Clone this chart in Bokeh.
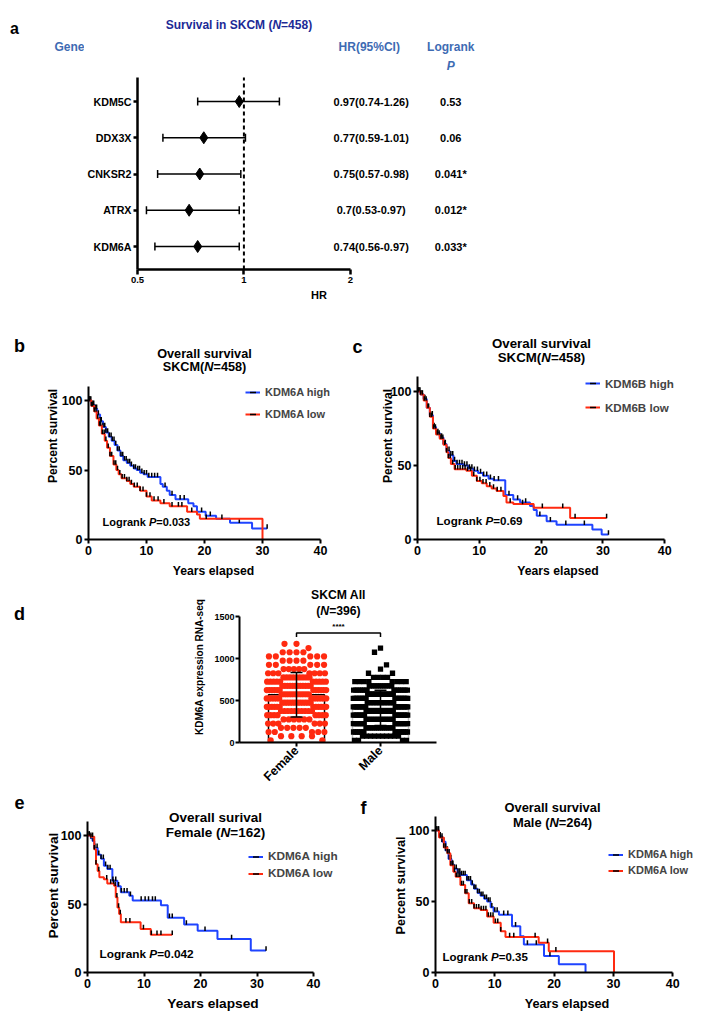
import math
import numpy as np
from bokeh.plotting import figure
from bokeh.layouts import column, row
from bokeh.models import (Range1d, FixedTicker, Whisker, TeeHead,
                          ColumnDataSource, Legend, LegendItem)
from bokeh.core.properties import value
from bokeh.embed import file_html
from bokeh.resources import INLINE

# ------------------------------------------------------------------ data
# panel a : forest plot
genes = ["KDM5C", "DDX3X", "CNKSR2", "ATRX", "KDM6A"]
hr = [0.97, 0.77, 0.75, 0.7, 0.74]
hr_low = [0.74, 0.59, 0.57, 0.53, 0.56]
hr_high = [1.26, 1.01, 0.98, 0.97, 0.97]
logrank_p = [0.53, 0.06, 0.041, 0.012, 0.033]
hr_ticks = [0.5, 1, 2]

# Kaplan-Meier panels (years, percent survival) and censor times
km_xticks = [0, 10, 20, 30, 40]
km_yticks = [0, 50, 100]

b_hi_t = [0, 0.5, 1.0, 1.5, 2.0, 2.5, 3.0, 3.5, 4.0, 4.5, 5.0, 5.5, 6.0, 6.6, 7.2, 7.8, 8.3, 8.9, 9.5, 10.2,
          12.4, 12.8, 13.5, 14.0, 15.0, 17.2, 18.1, 18.7, 20.2, 22.0, 24.4, 28.2, 30.8]
b_hi_s = [100, 97, 94, 90, 85, 81, 77, 74, 71, 68, 64, 60, 57, 55, 53, 51, 50, 48, 47, 45,
          40, 38, 35, 32, 29, 26, 24, 20, 17, 15, 12, 8, 8]
b_hi_c = [0.2, 0.4, 0.7, 0.9, 1.2, 1.4, 1.7, 2.0, 2.2, 2.5, 2.8, 3.0, 3.3, 3.6, 3.9, 4.1, 4.4, 4.7, 5.0,
          5.3, 5.6, 5.9, 6.2, 6.5, 6.8, 7.1, 7.4, 7.8, 8.1, 8.5, 8.8, 9.2, 9.6, 10.0, 10.4, 10.9, 11.4,
          11.9, 13.2, 14.4, 15.8, 16.5, 19.5, 21.0, 26.0, 30.8]
b_lo_t = [0, 0.5, 1.0, 1.4, 1.8, 2.3, 2.8, 3.2, 3.7, 4.3, 4.8, 5.2, 5.7, 6.6, 7.2, 7.8, 8.9, 10.0, 10.9,
          12.4, 14.0, 17.0, 18.7, 19.2, 30.0]
b_lo_s = [100, 96, 92, 87, 82, 76, 71, 66, 60, 54, 50, 47, 44, 42, 40, 38, 35, 31, 28,
          26, 24, 20, 18, 15, 0]
b_lo_c = [0.2, 0.5, 0.7, 1.0, 1.3, 1.6, 1.9, 2.1, 2.4, 2.7, 3.0, 3.4, 3.7, 4.0, 4.4, 4.7, 5.0, 5.4, 5.8,
          6.2, 6.6, 7.0, 7.4, 7.9, 8.4, 8.9, 9.4, 10.0, 10.6, 11.3, 12.0, 13.0, 14.4, 15.5, 16.1, 17.8,
          20.3, 23.0]
b_logrank = "0.033"

c_hi_t = [0, 0.5, 1.0, 1.5, 2.0, 2.5, 3.0, 3.6, 4.2, 4.7, 5.2, 5.8, 6.3, 7.4, 8.2, 9.0, 9.8, 10.6, 11.5,
          12.3, 14.2, 15.5, 16.6, 18.2, 18.8, 19.3, 20.9, 22.5, 28.3, 29.8, 30.9]
c_hi_s = [100, 98, 95, 89, 84, 76, 72, 69, 64.5, 60, 57, 53, 51, 50, 48, 46.5, 45, 43, 41,
          40, 30, 27, 25, 22.6, 20, 16, 12.4, 10, 6.8, 3.4, 3.4]
c_hi_c = [0.2, 0.4, 0.7, 1.0, 1.2, 1.5, 1.8, 2.1, 2.4, 2.7, 3.0, 3.3, 3.6, 3.9, 4.2, 4.5, 4.8, 5.1, 5.4,
          5.7, 6.0, 6.4, 6.8, 7.2, 7.6, 8.0, 8.4, 8.8, 9.2, 9.7, 10.2, 10.7, 11.2, 11.8, 12.4, 13.1,
          14.8, 16.2, 17.5, 19.8, 21.5, 24.0, 27.0, 30.9]
c_lo_t = [0, 0.5, 1.0, 1.5, 2.0, 2.5, 3.0, 3.6, 4.2, 4.7, 5.0, 5.4, 6.0, 7.9, 8.8, 9.6, 10.4, 11.2, 12.0,
          12.8, 13.9, 14.4, 15.5, 18.8, 24.7, 30.6]
c_lo_s = [100, 98, 94, 89, 83, 75, 71, 68, 64, 59, 55, 51, 47.5, 46.4, 43, 39.6, 38, 36, 34.5,
          32.8, 29.4, 25, 24, 21.5, 14.5, 14.5]
c_lo_c = [0.2, 0.5, 0.8, 1.1, 1.4, 1.7, 2.0, 2.3, 2.6, 2.9, 3.2, 3.5, 3.8, 4.1, 4.4, 4.7, 5.0, 5.3, 5.7,
          6.1, 6.5, 6.9, 7.3, 7.7, 8.1, 8.6, 9.1, 9.6, 10.1, 10.6, 11.1, 11.7, 12.3, 12.9, 13.5, 15.0,
          17.0, 20.2, 23.5, 25.5, 30.6]
c_logrank = "0.69"

e_hi_t = [0, 0.6, 0.9, 1.2, 1.8, 2.4, 2.9, 3.5, 4.4, 5.3, 5.9, 7.4, 8.0, 13.0, 14.2, 17.1, 19.5, 23.0,
          28.9, 31.6]
e_hi_s = [100, 98, 96, 91, 86, 83, 78, 75.6, 67, 63, 58.5, 56, 52.5, 49, 40, 35, 30.5, 24.4, 16, 16]
e_hi_c = [0.3, 0.6, 1.0, 1.3, 1.7, 2.0, 2.4, 2.8, 3.2, 3.6, 4.0, 4.5, 5.0, 5.5, 6.0, 6.5, 7.0, 7.6,
          9.5, 10.2, 10.8, 11.5, 12.0, 14.5, 15.0, 17.5, 20.8, 25.5, 31.6]
e_lo_t = [0, 0.6, 1.2, 1.5, 1.8, 2.1, 2.9, 3.5, 4.7, 5.0, 5.3, 5.6, 5.9, 9.4, 11.2, 15.0]
e_lo_s = [100, 99, 90, 79, 74, 69.5, 68, 65, 63.4, 55, 47.5, 42.7, 36.6, 31.7, 27.6, 27.6]
e_lo_c = [0.3, 0.6, 0.9, 1.2, 1.5, 2.0, 3.4, 4.1, 4.6, 4.9, 5.2, 5.5, 5.8, 6.8, 7.5, 9.9, 11.3, 12.3,
          13.0, 15.0]
e_logrank = "0.042"

f_hi_t = [0, 0.6, 1.1, 1.7, 2.2, 2.7, 3.1, 3.7, 4.2, 5.3, 6.0, 6.5, 7.1, 7.6, 8.2, 8.7, 9.3, 9.8, 10.7,
          12.9, 14.3, 14.9, 18.3, 20.8, 25.3]
f_hi_s = [100, 96, 92, 86, 80, 76, 73, 70.5, 68.6, 65, 62, 59, 56, 54, 52, 50, 46, 43, 40.7,
          32.6, 25.6, 19.8, 11.6, 5.8, 0]
f_hi_c = [0.2, 0.5, 0.8, 1.1, 1.4, 1.7, 2.0, 2.3, 2.6, 2.9, 3.2, 3.5, 3.8, 4.1, 4.4, 4.7, 5.0, 5.3, 5.6,
          5.9, 6.2, 6.5, 6.8, 7.1, 7.4, 7.7, 8.0, 8.3, 8.6, 8.9, 9.2, 9.5, 10.0, 10.4, 11.5, 12.2, 13.5,
          15.5, 17.0, 19.3]
f_lo_t = [0, 0.6, 1.4, 2.0, 2.5, 3.0, 3.4, 4.2, 5.0, 5.6, 6.5, 7.6, 8.7, 9.8, 11.0, 11.8, 17.4, 19.1, 30.1]
f_lo_s = [100, 95, 88, 84, 75.6, 71, 67.4, 61.6, 55.8, 48.8, 45.3, 44, 39.5, 35, 29, 25, 21, 15, 0]
f_lo_c = [0.2, 0.5, 0.8, 1.1, 1.4, 1.7, 2.0, 2.3, 2.6, 2.9, 3.2, 3.5, 3.8, 4.1, 4.4, 4.7, 5.0, 5.3, 5.7,
          6.1, 6.5, 6.9, 7.3, 7.7, 8.1, 8.5, 8.9, 9.3, 9.7, 10.1, 10.5, 11.0, 12.5, 13.2, 16.8, 18.9, 20.3]
f_logrank = "0.35"

# panel d : scatter dot plot (value rows and number of dots in each row)
d_groups = ["Female", "Male"]
d_yticks = [0, 500, 1000, 1500]
female_levels = [25, 75, 125, 175, 225, 275, 325, 375, 425, 475, 525, 575, 625, 675, 725, 775, 825,
                 875, 925, 975, 1025, 1075, 1125, 1175]
female_counts = [2, 4, 5, 5, 6, 6, 8, 10, 12, 12, 13, 12, 12, 12, 10, 9, 7, 5, 5, 4, 5, 4, 1, 2]
male_levels = [25, 75, 125, 175, 225, 275, 325, 375, 425, 475, 525, 575, 625, 675, 725, 775, 825,
               875, 925, 1075, 1125]
male_counts = [4, 10, 13, 14, 15, 16, 17, 18, 18, 18, 18, 17, 14, 11, 8, 4, 2, 1, 1, 1, 1]

# ------------------------------------------------------------------ style helpers
FS = "Liberation Sans"
BLUE = "#1f44ff"
RED = "#ff2a10"
NAVY = "#1c2a96"
STEEL = "#3e6bb3"

_W = {' ': 278, '(': 333, ')': 333, '*': 389, '-': 333, '.': 278, '=': 584, '%': 889}
for _c in '0123456789':
    _W[_c] = 556
_W.update(dict(A=722, B=722, C=722, D=722, E=667, F=611, G=778, H=722, I=278, K=722, L=611, M=833,
               N=722, O=778, P=667, R=722, S=667, T=611, X=667, Y=667))
_W.update(dict(a=556, b=611, c=556, d=611, e=556, g=611, h=611, i=278, k=556, l=278, m=889, n=611,
               o=611, p=611, q=611, r=389, s=556, t=333, u=611, v=556, w=778, x=556, y=556))


def tw(s, size):
    return sum(_W.get(ch, 556) for ch in s) / 1000.0 * size


def rich(p, x, y, pieces, size, color="black", align="center"):
    ws = [tw(t, size) for t, _ in pieces]
    off = -sum(ws) / 2 if align == "center" else 0.0
    for (t, st), w in zip(pieces, ws):
        p.text(x=[x], y=[y], text=[t], x_offset=off, text_align="left", text_baseline="middle",
               text_font=value(FS), text_font_size=value(f"{size}px"),
               text_font_style=value(st), text_color=color)
        off += w


def text_fig(X0, W, Y0, H, items):
    """an axis-less strip in page pixel coordinates holding panel letters / headers"""
    p = figure(width=W, height=H, x_range=Range1d(X0, X0 + W), y_range=Range1d(Y0 + H, Y0),
               min_border_left=0, min_border_right=0, min_border_top=0, min_border_bottom=0,
               x_axis_location=None, y_axis_location=None,
               output_backend="svg", toolbar_location=None, title=None)
    p.outline_line_color = None
    p.xgrid.visible = False
    p.ygrid.visible = False
    for x, y, txt, size, align, color in items:
        p.text(x=[x], y=[y], text=[txt], text_align=align, text_baseline="middle",
               text_font=value(FS), text_font_size=value(f"{size}px"),
               text_font_style=value("bold"), text_color=color)
    return column(p)


def style_axes(p, tick_px, lab_px, lw=2):
    for ax in (p.xaxis[0], p.yaxis[0]):
        ax.axis_line_width = lw
        ax.axis_line_color = "black"
        ax.major_tick_line_width = lw
        ax.major_tick_line_color = "black"
        ax.major_tick_out = 4
        ax.major_tick_in = 0
        ax.minor_tick_line_color = None
        ax.major_label_text_font = FS
        ax.major_label_text_font_style = "bold"
        ax.major_label_text_font_size = f"{tick_px}px"
        ax.major_label_text_color = "black"
        ax.axis_label_text_font = FS
        ax.axis_label_text_font_style = "bold"
        ax.axis_label_text_font_size = f"{lab_px}px"
        ax.axis_label_text_color = "black"
    p.xgrid.visible = False
    p.ygrid.visible = False
    p.outline_line_color = None


# ------------------------------------------------------------------ panel a
A_X0, A_W, A_Y0, A_H = 84, 616, 0, 308
A_OX, A_OY, A_DPX = 135, 269, 107
A_ROW0, A_ROWPX = 246, 36.25
A_FTOP, A_FRIGHT = 10, 500


def xa(px):
    return hr_ticks[0] * 2 ** ((px - A_OX) / A_DPX)


def ya(py):
    return 1 + (A_ROW0 - py) / A_ROWPX


pa = figure(width=A_W, height=A_H, x_axis_type="log",
            x_range=Range1d(xa(A_OX), xa(A_FRIGHT)), y_range=Range1d(ya(A_OY), ya(A_FTOP)),
            min_border_left=A_OX - A_X0, min_border_right=A_X0 + A_W - A_FRIGHT,
            min_border_top=A_FTOP - A_Y0, min_border_bottom=A_Y0 + A_H - A_OY,
            output_backend="svg", toolbar_location=None, title=None)
style_axes(pa, 9.5, 11, lw=2.5)
gene_y = [len(genes) - i for i in range(len(genes))]
pa.yaxis.ticker = FixedTicker(ticks=gene_y)
pa.yaxis.major_label_overrides = {gy: g for gy, g in zip(gene_y, genes)}
pa.yaxis.major_label_text_font_size = "10.7px"
pa.yaxis.major_label_standoff = 2
pa.yaxis.bounds = (ya(A_OY), ya(77))
pa.xaxis.ticker = FixedTicker(ticks=hr_ticks)
pa.xaxis.major_label_overrides = {t: str(t) for t in hr_ticks}
pa.xaxis.bounds = (hr_ticks[0], hr_ticks[-1])
pa.xaxis.major_tick_out = 5
pa.xaxis.major_label_standoff = 2
pa.xaxis.axis_label = "HR"
pa.xaxis.axis_label_standoff = 3

pa.segment(x0=[1], y0=[ya(A_OY)], x1=[1], y1=[ya(77)], line_dash="4 3", line_width=2,
           line_color="black")
wsrc = ColumnDataSource(dict(y=gene_y, lo=hr_low, hi=hr_high))
pa.add_layout(Whisker(source=wsrc, base="y", lower="lo", upper="hi", dimension="width",
                      line_width=1.5, line_color="black",
                      upper_head=TeeHead(size=8, line_width=1.5, line_color="black"),
                      lower_head=TeeHead(size=8, line_width=1.5, line_color="black")))
pa.scatter(x=hr, y=gene_y, marker="diamond", size=12, color="black")

hr_txt = [f"{h}({lo}-{hi})" for h, lo, hi in zip(hr, hr_low, hr_high)]
p_txt = [f"{pv}{'*' if pv < 0.05 else ''}" for pv in logrank_p]
for xcol, txts in ((xa(370), hr_txt), (xa(450), p_txt)):
    pa.text(x=[xcol] * len(genes), y=gene_y, text=txts, text_align="center", text_baseline="middle",
            text_font=value(FS), text_font_size=value("11px"), text_font_style=value("bold"),
            text_color="black")
rich(pa, xa(237), ya(24), [("Survival in SKCM (", "bold"), ("N", "bold italic"), ("=458)", "bold")],
     12, NAVY)
rich(pa, xa(368), ya(46), [("HR(95%CI)", "bold")], 12, STEEL)
rich(pa, xa(450), ya(46), [("Logrank", "bold")], 12, STEEL)
rich(pa, xa(450), ya(65), [("P", "bold italic")], 12, STEEL)
la = text_fig(0, 84, 0, 308, [(14, 28, "a", 16, "center", "black"),
                              (84, 46, "Gene", 12, "right", STEEL)])


# ------------------------------------------------------------------ KM helper
def make_km(X0, W, Y0, H, ox, oy, sx, sy, ftop, tick_px, lab_px, ylab_so, xlab_so):
    fr = X0 + W - 2
    p = figure(width=W, height=H, x_range=Range1d(0, (fr - ox) / sx),
               y_range=Range1d(0, (oy - ftop) / sy),
               min_border_left=ox - X0, min_border_right=X0 + W - fr,
               min_border_top=ftop - Y0, min_border_bottom=Y0 + H - oy,
               output_backend="svg", toolbar_location=None, title=None)
    style_axes(p, tick_px, lab_px)
    p.xaxis.ticker = FixedTicker(ticks=km_xticks)
    p.yaxis.ticker = FixedTicker(ticks=km_yticks)
    p.xaxis.bounds = (0, 40)
    p.yaxis.bounds = (0, 110)
    p.xaxis.axis_label = "Years elapsed"
    p.yaxis.axis_label = "Percent survival"
    p.xaxis.major_label_standoff = 2
    p.yaxis.major_label_standoff = 2
    p.yaxis.axis_label_standoff = ylab_so
    p.xaxis.axis_label_standoff = xlab_so

    def fx(px):
        return (px - ox) / sx

    def fy(py):
        return (oy - py) / sy
    return p, fx, fy, ox, oy, sy


def surv_at(t, s, tc):
    idx = np.searchsorted(np.asarray(t), np.asarray(tc), side="right") - 1
    return np.asarray(s)[idx]


def curves(p, ox, oy, sy, hi, lo, labels, leg_xy, leg_px, item_h, spacing):
    rends = []
    for (t, s, c), col in ((hi, BLUE), (lo, RED)):
        ln = p.step(x=t, y=s, mode="after", line_color=col, line_width=2)
        ck = p.scatter(x=c, y=surv_at(t, s, c) + 2.0 / sy, marker="dash", angle=math.pi / 2,
                       size=4.5, line_color="black", line_width=1.5)
        rends.append((ln, ck))
    lx, ly = leg_xy
    top = ly - item_h / 2
    bottom = top + 2 * item_h + spacing
    leg = Legend(items=[LegendItem(label=labels[0], renderers=list(rends[0])),
                        LegendItem(label=labels[1], renderers=list(rends[1]))],
                 location=(lx - ox, oy - bottom), padding=0, margin=0, spacing=spacing,
                 glyph_width=15, glyph_height=item_h, label_height=item_h, label_standoff=5,
                 label_text_font=FS, label_text_font_style="bold", label_text_font_size=f"{leg_px}px",
                 border_line_color=None, background_fill_alpha=0)
    p.add_layout(leg)


# panel b
pb, fxb, fyb, oxb, oyb, syb = make_km(30, 310, 308, 274, 88, 539, 5.8, 1.39, 332, 12.5, 12.2, -1, 6)
curves(pb, oxb, oyb, syb, (b_hi_t, b_hi_s, b_hi_c), (b_lo_t, b_lo_s, b_lo_c),
       ["KDM6A high", "KDM6A low"], (245, 392), 11, 20, 2)
rich(pb, fxb(204), fyb(353), [("Overall survival", "bold")], 12.7)
rich(pb, fxb(204), fyb(366), [("SKCM(", "bold"), ("N", "bold italic"), ("=458)", "bold")], 12.7)
rich(pb, fxb(102), fyb(521), [("Logrank ", "bold"), ("P", "bold italic"), ("=" + b_logrank, "bold")],
     11, align="left")
lb = text_fig(0, 30, 308, 274, [(19, 345, "b", 18, "center", "black")])

# panel c
pc, fxc, fyc, oxc, oyc, syc = make_km(370, 330, 308, 274, 417, 539, 6.18, 1.48, 332, 12.5, 12.2, -7, 6)
curves(pc, oxc, oyc, syc, (c_hi_t, c_hi_s, c_hi_c), (c_lo_t, c_lo_s, c_lo_c),
       ["KDM6B high", "KDM6B low"], (585, 383), 11.6, 20, 4)
rich(pc, fxc(541), fyc(343), [("Overall survival", "bold")], 13.3)
rich(pc, fxc(541), fyc(357), [("SKCM(", "bold"), ("N", "bold italic"), ("=458)", "bold")], 13.3)
rich(pc, fxc(436), fyc(520), [("Logrank ", "bold"), ("P", "bold italic"), ("=" + c_logrank, "bold")],
     11.6, align="left")
lc = text_fig(340, 30, 308, 274, [(357, 346, "c", 18, "center", "black")])

# panel e
R4_Y0, R4_H = 791, 223
pe, fxe, fye, oxe, oye, sye = make_km(30, 310, R4_Y0, R4_H, 87, 972, 5.65, 1.37, 798, 12.5, 13.7, -3, 5)
curves(pe, oxe, oye, sye, (e_hi_t, e_hi_s, e_hi_c), (e_lo_t, e_lo_s, e_lo_c),
       ["KDM6A high", "KDM6A low"], (248, 856), 11.8, 15, 2)
rich(pe, fxe(215), fye(817), [("Overall surival", "bold")], 13.5)
rich(pe, fxe(215), fye(832), [("Female (", "bold"), ("N", "bold italic"), ("=162)", "bold")], 13.5)
rich(pe, fxe(99), fye(953), [("Logrank ", "bold"), ("P", "bold italic"), ("=" + e_logrank, "bold")],
     11.8, align="left")
le = text_fig(0, 30, R4_Y0, R4_H, [(19, 802, "e", 18, "center", "black")])

# panel f
pf, fxf, fyf, oxf, oyf, syf = make_km(370, 330, R4_Y0, R4_H, 435, 972, 5.93, 1.42, 798, 12.5, 12.7, -2, 6)
curves(pf, oxf, oyf, syf, (f_hi_t, f_hi_s, f_hi_c), (f_lo_t, f_lo_s, f_lo_c),
       ["KDM6A high", "KDM6A low"], (608, 854), 11, 15, 1)
rich(pf, fxf(552), fyf(807), [("Overall survival", "bold")], 12.9)
rich(pf, fxf(552), fyf(822), [("Male (", "bold"), ("N", "bold italic"), ("=264)", "bold")], 12.9)
rich(pf, fxf(442), fyf(956), [("Logrank ", "bold"), ("P", "bold italic"), ("=" + f_logrank, "bold")],
     11.5, align="left")
lf = text_fig(340, 30, R4_Y0, R4_H, [(363, 807, "f", 18, "center", "black")])

# ------------------------------------------------------------------ panel d
D_X0, D_W, D_Y0, D_H = 30, 420, 582, R4_Y0 - 582
D_OX, D_OY, D_FR, D_FT = 239, 747, 436, 588
D_CAT0, D_CATPX = 296, 84
D_SY = 130 / 1500


def xd(px):
    return 1 + (px - D_CAT0) / D_CATPX


def yd(py):
    return (D_OY - py) / D_SY


pdd = figure(width=D_W, height=D_H, x_range=Range1d(xd(D_OX), xd(D_FR)), y_range=Range1d(0, yd(D_FT)),
             min_border_left=D_OX - D_X0, min_border_right=D_X0 + D_W - D_FR,
             min_border_top=D_FT - D_Y0, min_border_bottom=D_Y0 + D_H - D_OY,
             output_backend="svg", toolbar_location=None, title=None)
style_axes(pdd, 9, 10)
gx = [i + 1 for i in range(len(d_groups))]
pdd.xaxis.ticker = FixedTicker(ticks=gx)
pdd.xaxis.major_label_overrides = {x: g for x, g in zip(gx, d_groups)}
pdd.xaxis.major_label_orientation = math.pi / 4
pdd.xaxis.major_label_text_font_size = "12.5px"
pdd.xaxis.major_label_standoff = 2
pdd.yaxis.ticker = FixedTicker(ticks=d_yticks)
pdd.yaxis.bounds = (0, 1500)
pdd.yaxis.major_label_standoff = 1
pdd.yaxis.axis_label = "KDM6A expression  RNA-seq"
pdd.yaxis.axis_label_standoff = 6


def swarm(levels, counts, cx, width_px):
    """GraphPad-like layout: two neighbouring value rows form one band, higher values in the middle"""
    xs, ys = [], []
    for k in range(0, len(levels), 2):
        vals = []
        for v, n in zip(levels[k:k + 2], counts[k:k + 2]):
            vals += [v] * n
        vals.sort(reverse=True)
        n = len(vals)
        step = min(12.0, width_px / n)
        slots = sorted(range(n), key=lambda i: (abs(i - (n - 1) / 2), i))
        for v, i in zip(vals, slots):
            xs.append(cx + (i - (n - 1) / 2) * step / D_CATPX)
            ys.append(v)
    return xs, ys


fem_vals = np.repeat(female_levels, female_counts)
mal_vals = np.repeat(male_levels, male_counts)
means = [fem_vals.mean(), mal_vals.mean()]
sds = [fem_vals.std(ddof=1), mal_vals.std(ddof=1)]

pdd.vbar(x=gx, top=means, width=56 / D_CATPX, fill_color=None, line_color=["black", "#bdbdbd"],
         line_width=1.5)
fx_, fy_ = swarm(female_levels, female_counts, gx[0], 62)
pdd.scatter(x=fx_, y=fy_, marker="circle", size=6.2, fill_color=RED, line_color=None)
mx_, my_ = swarm(male_levels, male_counts, gx[1], 56)
pdd.scatter(x=mx_, y=my_, marker="square", size=5.3, fill_color="black", line_color=None)
esrc = ColumnDataSource(dict(x=gx, lo=[m - s for m, s in zip(means, sds)],
                             hi=[m + s for m, s in zip(means, sds)]))
pdd.add_layout(Whisker(source=esrc, base="x", lower="lo", upper="hi", dimension="height",
                       line_width=1.5, line_color="black", level="overlay",
                       upper_head=TeeHead(size=12, line_width=1.5, line_color="black"),
                       lower_head=TeeHead(size=12, line_width=1.5, line_color="black")))
pdd.line(x=[gx[0], gx[0], gx[1], gx[1]], y=[yd(638), yd(634), yd(634), yd(638)],
         line_color="black", line_width=1.5)
rich(pdd, (gx[0] + gx[1]) / 2, yd(627), [("****", "bold")], 8)
rich(pdd, (gx[0] + gx[1]) / 2, yd(595), [("SKCM All", "bold")], 12.2)
rich(pdd, (gx[0] + gx[1]) / 2, yd(611), [("(", "bold"), ("N", "bold italic"), ("=396)", "bold")], 12.2)
ld = text_fig(0, 30, 582, D_H, [(19, 613, "d", 18, "center", "black")])

layout = column(row(la, pa), row(lb, pb, lc, pc), row(ld, pdd), row(le, pe, lf, pf))
open("out.html", "w").write(file_html(layout, INLINE))
